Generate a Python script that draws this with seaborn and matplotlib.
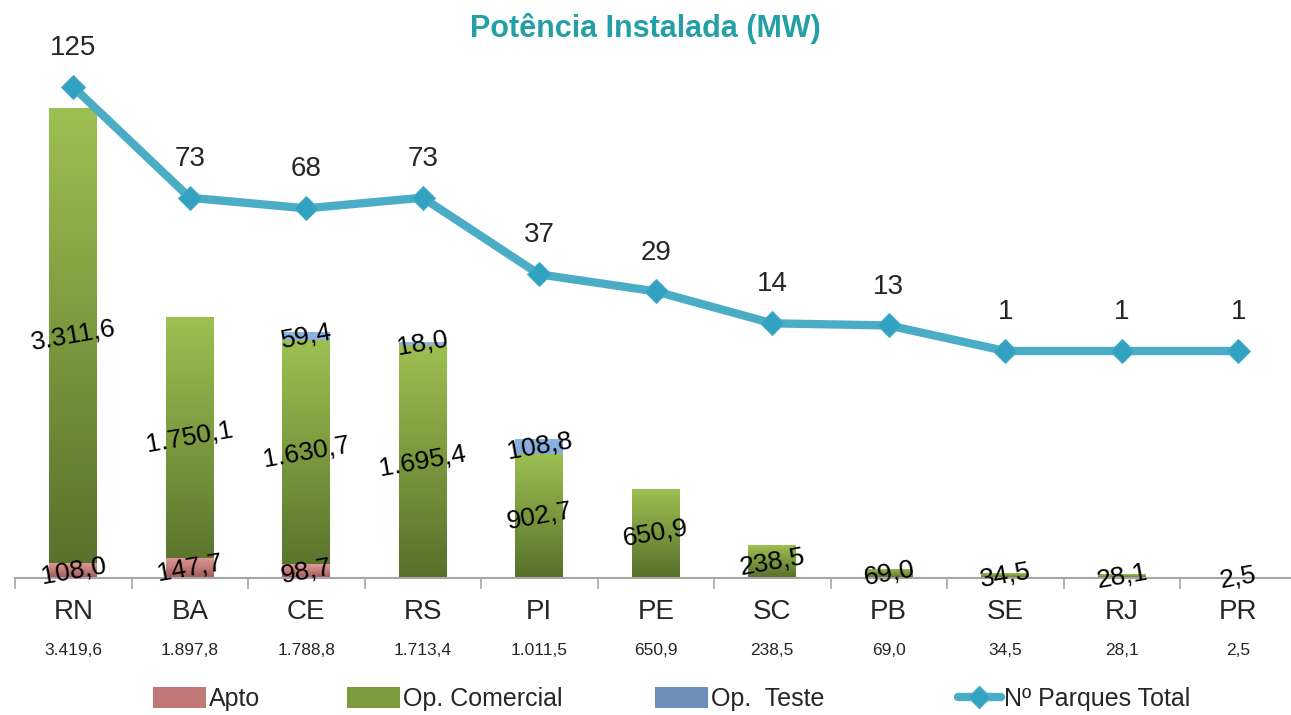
import numpy as np
import pandas as pd
import matplotlib
matplotlib.use("Agg")
import matplotlib.pyplot as plt
import seaborn as sns
from matplotlib.patches import Patch
from matplotlib.lines import Line2D
from matplotlib.colors import LinearSegmentedColormap

estados = ["RN", "BA", "CE", "RS", "PI", "PE", "SC", "PB", "SE", "RJ", "PR"]
totais = ["3.419,6", "1.897,8", "1.788,8", "1.713,4", "1.011,5", "650,9",
          "238,5", "69,0", "34,5", "28,1", "2,5"]
apto = [108.0, 147.7, 98.7, 0, 0, 0, 0, 0, 0, 0, 0]
op_comercial = [3311.6, 1750.1, 1630.7, 1695.4, 902.7, 650.9, 238.5, 69.0, 34.5, 28.1, 2.5]
op_teste = [0, 0, 59.4, 18.0, 108.8, 0, 0, 0, 0, 0, 0]
parques = [125, 73, 68, 73, 37, 29, 14, 13, 1, 1, 1]
legenda = ["Apto", "Op. Comercial", "Op.  Teste", "Nº Parques Total"]

sns.set_style("white")
plt.rcParams["font.family"] = ["Liberation Sans", "DejaVu Sans"]


def fmt(v):
    s = f"{v:,.1f}"
    return s.replace(",", "X").replace(".", ",").replace("X", ".")


df = pd.DataFrame({"estado": estados, "apto": apto, "com": op_comercial, "teste": op_teste})
df["ate_com"] = df["apto"] + df["com"]
df["total"] = df["ate_com"] + df["teste"]

fig = plt.figure(figsize=(12.91, 7.15), dpi=100)
ax = fig.add_axes([15 / 1291, 137 / 715, 1281.5 / 1291, 550 / 715])

camadas = [("total", "#8EB4E3", "#4A6890"),
           ("ate_com", "#9DC052", "#56702A"),
           ("apto", "#E09A98", "#A05A58")]
for col, c_top, c_bot in camadas:
    n0 = len(ax.patches)
    sns.barplot(data=df, x="estado", y=col, color=c_top, width=0.41,
                saturation=1, ax=ax, zorder=2)
    cmap = LinearSegmentedColormap.from_list(col, [c_bot, c_top])
    grad = np.linspace(0, 1, 256).reshape(-1, 1)
    for p in ax.patches[n0:]:
        x0, y0 = p.get_x(), p.get_y()
        w, h = p.get_width(), p.get_height()
        if h <= 0:
            continue
        im = ax.imshow(grad, cmap=cmap, aspect="auto", origin="lower",
                       extent=[x0, x0 + w, y0, y0 + h], zorder=2)
        im.set_clip_path(p)
        p.set_facecolor("none")
        p.set_edgecolor("none")

# imshow mexe nos limites
ax.set_xlim(-0.5, 10.5)
ax.set_ylim(0, 4000)

for i in range(len(estados)):
    segs = [(0, apto[i]), (apto[i], op_comercial[i]), (apto[i] + op_comercial[i], op_teste[i])]
    for base, v in segs:
        if v <= 0:
            continue
        ax.text(i, base + v / 2, fmt(v), ha="center", va="center",
                rotation=10, fontsize=19, color="black", zorder=5)

ax.set_yticks([])
ax.set_xticks(np.arange(-0.5, 11, 1))
ax.set_xticklabels([])
ax.tick_params(axis="x", length=8, width=1.2, color="#A6A6A6", direction="out", bottom=True)
ax.set_xlabel("")
ax.set_ylabel("")
for s in ["top", "left", "right"]:
    ax.spines[s].set_visible(False)
ax.spines["bottom"].set_color("#A6A6A6")
ax.spines["bottom"].set_linewidth(1.5)

tr = ax.get_xaxis_transform()
for i, (e, t) in enumerate(zip(estados, totais)):
    ax.text(i, -0.062, e, transform=tr, ha="center", va="center", fontsize=20)
    ax.text(i, -0.132, t, transform=tr, ha="center", va="center", fontsize=12.5)

ax2 = ax.twinx()
sns.lineplot(x=np.arange(len(parques)), y=parques, ax=ax2, color="#4BACC6",
             linewidth=6, marker="D", markersize=12, markerfacecolor="#31A2C2",
             markeredgecolor="#4BACC6", zorder=4)
ax2.set_ylim(-105.6, 152.7)
ax2.set_xlim(-0.5, 10.5)
ax2.set_yticks([])
ax2.set_ylabel("")
for s in ["top", "left", "right", "bottom"]:
    ax2.spines[s].set_visible(False)
for i, v in enumerate(parques):
    ax2.annotate(str(v), (i, v), xytext=(0, 28), textcoords="offset points",
                 ha="center", va="center", fontsize=20)

fig.text(0.5, 0.96, "Potência Instalada (MW)", ha="center", va="center",
         fontsize=22, fontweight="bold", color="#22A0A6")

handles = [Patch(facecolor="#C07876", edgecolor="none"),
           Patch(facecolor="#7A9A3C", edgecolor="none"),
           Patch(facecolor="#6E8EBA", edgecolor="none"),
           Line2D([0], [0], color="#4BACC6", linewidth=6, marker="D",
                  markersize=11, markerfacecolor="#31A2C2", markeredgecolor="#4BACC6")]
xs = [153, 347, 655, 958]
hl = [2.1, 2.1, 2.1, 1.7]
for h, lab, x, l in zip(handles, legenda, xs, hl):
    fig.legend([h], [lab], loc="center left", bbox_to_anchor=(x / 1291, 0.022),
               frameon=False, fontsize=18, handlelength=l, handleheight=0.9,
               handletextpad=0.15, borderpad=0, borderaxespad=0)

fig.savefig("out.png", dpi=100)
